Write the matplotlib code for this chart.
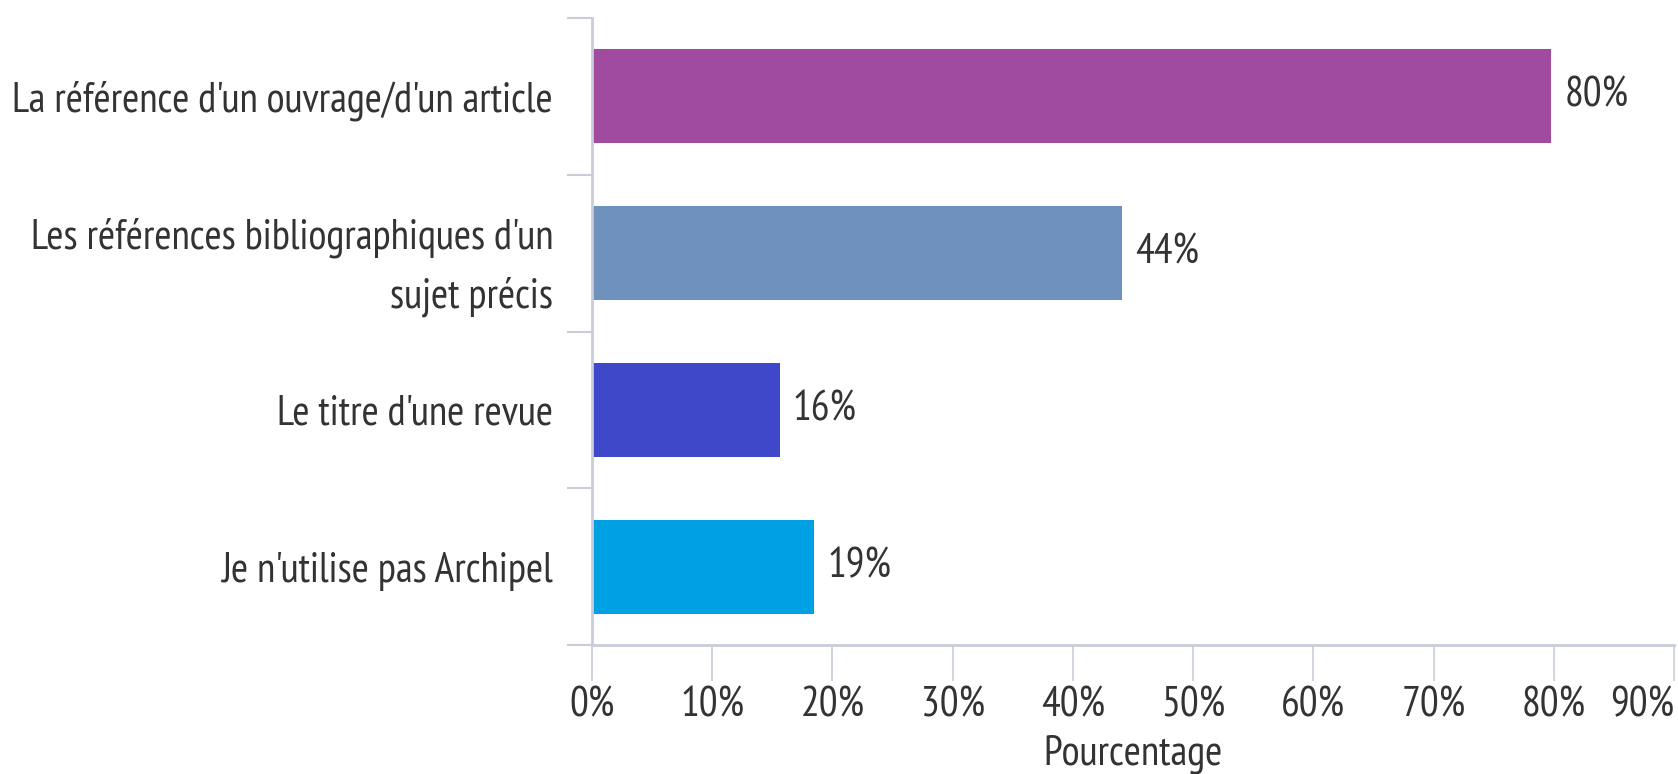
import matplotlib.pyplot as plt
import numpy as np

categories = ["La référence d'un ouvrage/d'un article",
              "Les références bibliographiques d'un\nsujet précis",
              "Le titre d'une revue",
              "Je n'utilise pas Archipel"]
values = [79.8, 44.1, 15.6, 18.5]
value_labels = ["80%", "44%", "16%", "19%"]
colors = ['#A04AA0', '#6F91BE', '#3F48C8', '#00A1E4']
xticks = [0, 10, 20, 30, 40, 50, 60, 70, 80, 90]

plt.rcParams['font.family'] = ['PT Sans Narrow', 'DejaVu Sans']
grey = '#C9CDD9'
txt = '#333333'
fs = 30

fig = plt.figure(figsize=(16.78, 7.74), dpi=100)
ax = fig.add_axes([592/1678, 129/774, (1674-592)/1678, (645-18)/774])

y = np.arange(len(categories))
ax.barh(y, values, height=0.6, color=colors)
for yi, v, lab in zip(y, values, value_labels):
    ax.text(v + 1.1, yi, lab, va='center', ha='left', fontsize=fs, color=txt)

ax.set_xlim(0, 90)
ax.set_ylim(len(categories) - 0.5, -0.5)
ax.set_xticks(xticks)
ax.set_xticklabels([f'{t}%' for t in xticks])
ax.get_xticklabels()[-1].set_horizontalalignment('right')
ax.set_yticks(np.arange(-0.5, len(categories), 1.0))
ax.set_yticklabels([])
ax.set_yticks(y, minor=True)
ax.set_yticklabels(categories, minor=True, fontsize=fs, color=txt, linespacing=1.6)
ax.tick_params(axis='y', which='minor', length=0, pad=28)
ax.tick_params(axis='y', which='major', length=18, width=1.5, color=grey)
ax.tick_params(axis='x', length=26, width=1.2, color=grey, labelsize=fs,
               labelcolor=txt, pad=4)

for s in ['top', 'right']:
    ax.spines[s].set_visible(False)
for s in ['left', 'bottom']:
    ax.spines[s].set_color(grey)
    ax.spines[s].set_linewidth(2)

ax.set_xlabel('Pourcentage', fontsize=fs, color=txt, labelpad=6)

fig.savefig('out.png', dpi=100)
